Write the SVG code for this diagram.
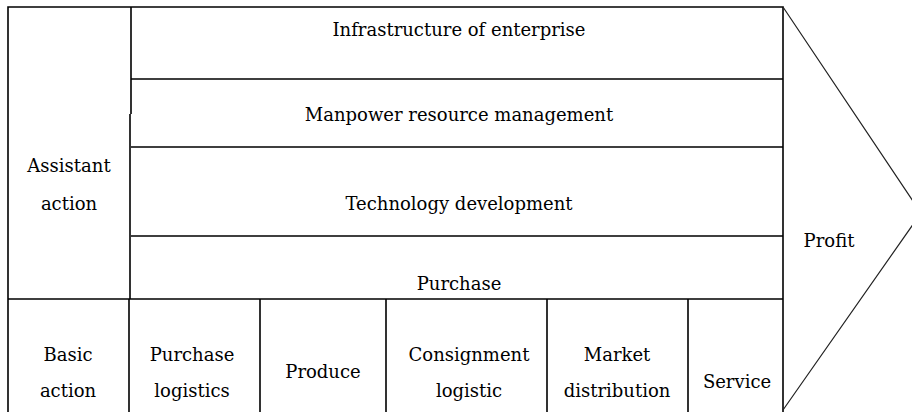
<svg xmlns="http://www.w3.org/2000/svg" width="912" height="412" viewBox="0 0 912 412">
<style>
.ln{stroke:#000;stroke-width:1.6;fill:none}
.ar{stroke:#222;stroke-width:1.2;fill:none}
text{font-family:'DejaVu Serif','Liberation Serif',serif;font-size:18px;fill:#000;text-anchor:middle}
</style>
<rect width="912" height="412" fill="#fff"/>
<g id="frame">
<path class="ln" d="M8,412 V7 H783 V412"/>
<path class="ln" d="M131,7 V114 M130,114 V299"/>
<path class="ln" d="M131,79 H783 M131,147 H783 M131,236 H783 M8,299 H783"/>
<path class="ar" d="M783,7 L921,213 L783,410"/>
</g>
<g id="row-infrastructure"><text x="459" y="36">Infrastructure of enterprise</text></g>
<g id="row-manpower"><text x="459" y="121">Manpower resource management</text></g>
<g id="row-technology"><text x="459" y="210">Technology development</text></g>
<g id="row-purchase"><text x="459" y="290">Purchase</text></g>
<g id="assistant"><text x="69" y="172">Assistant</text><text x="69" y="210">action</text></g>
<g id="profit"><text x="829" y="247">Profit</text></g>
<g id="basic"><text x="68" y="361">Basic</text><text x="68" y="397">action</text></g>
<g id="purchase-logistics"><text x="192" y="361">Purchase</text><text x="192" y="397">logistics</text></g>
<g id="produce"><text x="323" y="378">Produce</text></g>
<g id="consignment"><text x="469" y="361">Consignment</text><text x="469" y="397">logistic</text></g>
<g id="market"><text x="617" y="361">Market</text><text x="617" y="397">distribution</text></g>
<g id="service"><text x="737" y="388">Service</text></g>
<g id="columns">
<path class="ln" d="M129,299 V412 M260,299 V412 M386,299 V412 M547,299 V412 M688,299 V412"/>
</g>
</svg>
